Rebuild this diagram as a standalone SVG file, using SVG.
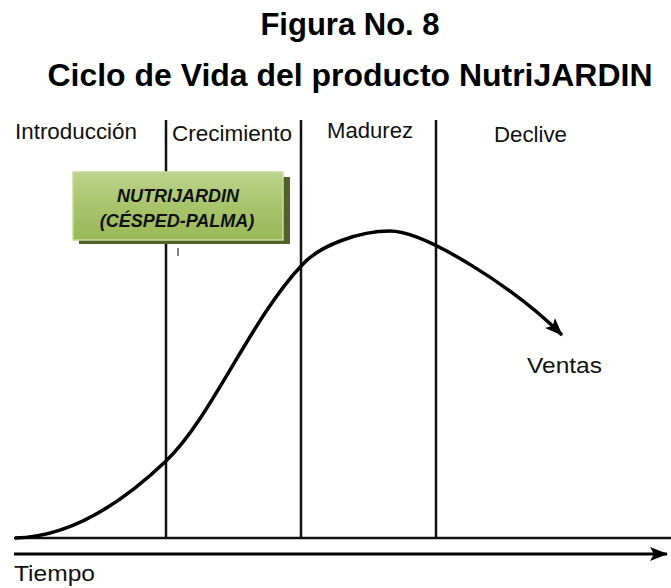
<svg xmlns="http://www.w3.org/2000/svg" width="671" height="588" viewBox="0 0 671 588">
  <style>
    .title { font-family: "Liberation Sans", Arial, sans-serif; font-weight: bold; font-size: 31px; fill: #000; }
    .lbl { font-family: "Liberation Sans", Arial, sans-serif; font-size: 22.5px; fill: #111; }
    .box { font-family: "Liberation Sans", Arial, sans-serif; font-weight: bold; font-style: italic; font-size: 18px; fill: #111; }
    .phase { stroke: #111; stroke-width: 2.5; fill: none; }
    .conn { stroke: #000; fill: none; }
  </style>
  <defs>
    <linearGradient id="grn" x1="0" y1="0" x2="0" y2="1">
      <stop offset="0" stop-color="#bcd38c"/>
      <stop offset="0.5" stop-color="#a7c46c"/>
      <stop offset="1" stop-color="#98b857"/>
    </linearGradient>
    <marker id="arr" markerUnits="userSpaceOnUse" markerWidth="18" markerHeight="14" viewBox="0 0 18 14" refX="17" refY="7" orient="auto">
      <path d="M0,0 L18,7 L0,14 L4,7 z" fill="#000"/>
    </marker>
  </defs>
  <rect width="671" height="588" fill="#fff"/>

  <g id="titles">
    <text class="title" x="350" y="35" text-anchor="middle">Figura No. 8</text>
    <text class="title" x="350" y="86" text-anchor="middle" textLength="605" lengthAdjust="spacingAndGlyphs">Ciclo de Vida del producto NutriJARDIN</text>
  </g>

  <g id="phase-lines">
    <line class="phase" x1="166" y1="120" x2="166" y2="538"/>
    <line class="phase" x1="301" y1="120" x2="301" y2="538"/>
    <line class="phase" x1="436" y1="120" x2="436" y2="538"/>
    <line class="phase" x1="14" y1="538" x2="671" y2="538"/>
  </g>

  <g id="phase-labels">
    <text class="lbl" x="15" y="139" textLength="122" lengthAdjust="spacingAndGlyphs">Introducción</text>
    <text class="lbl" x="172" y="141" textLength="120" lengthAdjust="spacingAndGlyphs">Crecimiento</text>
    <text class="lbl" x="327" y="138" textLength="86" lengthAdjust="spacingAndGlyphs">Madurez</text>
    <text class="lbl" x="494" y="142" textLength="73" lengthAdjust="spacingAndGlyphs">Declive</text>
  </g>

  <g id="product-box">
    <rect x="79" y="177" width="211" height="67" fill="#4f6228"/>
    <rect x="73" y="172" width="210" height="68" fill="url(#grn)" stroke="#c7dca0" stroke-width="1.5"/>
    <text class="box" x="178" y="202" text-anchor="middle">NUTRIJARDIN</text>
    <text class="box" x="177" y="227" text-anchor="middle">(CÉSPED-PALMA)</text>
    <line x1="178" y1="248" x2="178" y2="256" stroke="#333" stroke-width="1.2"/>
  </g>

  <g id="connectors">
    <path id="ventas-curve" class="conn" stroke-width="3.5" marker-end="url(#arr)"
      d="M15,538 C70,537 120,505 166,461 S250,320 302,265 C320,245 360,231 390,231 C425,231 515,288 562,335"/>
    <line id="time-axis" class="conn" stroke-width="3" x1="14" y1="554" x2="667" y2="554" marker-end="url(#arr)"/>
  </g>

  <g id="axis-labels">
    <text class="lbl" x="527" y="373" textLength="75" lengthAdjust="spacingAndGlyphs">Ventas</text>
    <text class="lbl" x="14" y="581" textLength="81" lengthAdjust="spacingAndGlyphs">Tiempo</text>
  </g>
</svg>
